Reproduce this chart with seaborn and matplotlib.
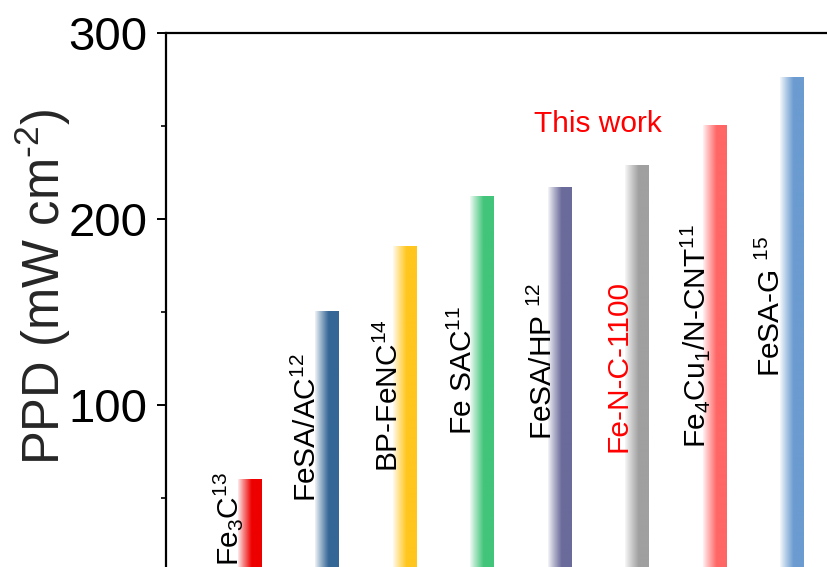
import numpy as np
import pandas as pd
import seaborn as sns
import matplotlib
matplotlib.use("Agg")
import matplotlib.pyplot as plt
from matplotlib.colors import to_rgb
from matplotlib.ticker import MultipleLocator

# Peak power density of Fe-based catalysts
materials = ["Fe3C", "FeSA/AC", "BP-FeNC", "Fe SAC", "FeSA/HP",
             "Fe-N-C-1100", "Fe4Cu1/N-CNT", "FeSA-G"]
ppd = [60, 150, 185, 212, 217, 229, 250, 276]
bar_labels = [r"Fe$_3$C$^{13}$", r"FeSA/AC$^{12}$", r"BP-FeNC$^{14}$",
              r"Fe SAC$^{11}$", r"FeSA/HP $^{12}$", "Fe-N-C-1100",
              r"Fe$_4$Cu$_1$/N-CNT$^{11}$", r"FeSA-G $^{15}$"]
bar_colors = ["#EE0000", "#356796", "#FFC61E", "#42C57A",
              "#6B6B9B", "#A0A0A0", "#FF6666", "#6B9BD0"]
label_colors = ["black"] * 5 + ["#FF0000"] + ["black"] * 2
highlight_text = "This work"
y_ticks = [100, 200, 300]

# label placement (offset from bar centre, start height along the axis)
label_dx = [-0.148, -0.148, -0.084, -0.129, -0.09, -0.129, -0.116, -0.155]
label_y0 = [13.6, 47.8, 64.0, 83.9, 81.2, 74.7, 76.9, 115.0]

sns.set_theme(style="ticks")
plt.rcParams["font.family"] = ["Liberation Sans", "DejaVu Sans"]
plt.rcParams["mathtext.fontset"] = "custom"
plt.rcParams["mathtext.rm"] = "Liberation Sans"
plt.rcParams["mathtext.it"] = "Liberation Sans:italic"
plt.rcParams["mathtext.bf"] = "Liberation Sans:bold"

W, H = 827, 567
fig = plt.figure(figsize=(W / 100, H / 100), dpi=100)
ax = fig.add_axes([166 / W, 0, (870 - 166) / W, 534 / H])

df = pd.DataFrame({"material": materials, "ppd": ppd})
sns.barplot(data=df, x="material", y="ppd", hue="material",
            palette=bar_colors, order=materials, hue_order=materials,
            legend=False, width=0.3, saturation=1, ax=ax)

# horizontal white-to-colour fill for each bar
n = 200
t = np.linspace(0, 1, n)
ramp = np.clip(0.05 + t / 0.6, 0, 1) ** 0.9
for patch in list(ax.patches):
    x0 = patch.get_x()
    w = patch.get_width()
    h = patch.get_height()
    idx = int(round(x0 + w / 2))
    c = np.array(to_rgb(bar_colors[idx]))
    img = (1 - ramp)[:, None] * np.ones(3) + ramp[:, None] * c
    img = img[None, :, :]
    patch.set_facecolor("none")
    patch.set_edgecolor("none")
    ax.imshow(img, extent=(x0, x0 + w, 0, h), aspect="auto",
              interpolation="bilinear", zorder=2, clip_on=True)

ax.set_xlim(-1.078, 8.01)
ax.set_ylim(12.9, 300)

for i, (lab, col) in enumerate(zip(bar_labels, label_colors)):
    ax.text(i + label_dx[i], label_y0[i], lab, rotation=90,
            rotation_mode="anchor", ha="left", va="baseline",
            fontsize=21.5, color=col, zorder=3)

ax.text(4.5, 246.8, highlight_text, ha="center", va="baseline",
        fontsize=21.5, color="#FF0000")

ax.set_xlabel("")
ax.set_ylabel("")
ax.set_xticks([])
ax.set_yticks(y_ticks)
ax.yaxis.set_minor_locator(MultipleLocator(50))
ax.tick_params(axis="y", which="major", direction="out", length=6.5,
               width=1.4, pad=7, labelsize=34, colors="black")
ax.tick_params(axis="y", which="minor", direction="out", length=3.5,
               width=1.4)
for side in ["left", "top"]:
    ax.spines[side].set_linewidth(1.6)
    ax.spines[side].set_color("black")
ax.spines["right"].set_visible(False)
ax.spines["bottom"].set_visible(False)

fig.text(43 / W, 1 - 287 / H, r"PPD (mW cm$^{\text{-}2}$)", rotation=90,
         ha="center", va="center", fontsize=36.5)

fig.savefig("out.png", dpi=100)
